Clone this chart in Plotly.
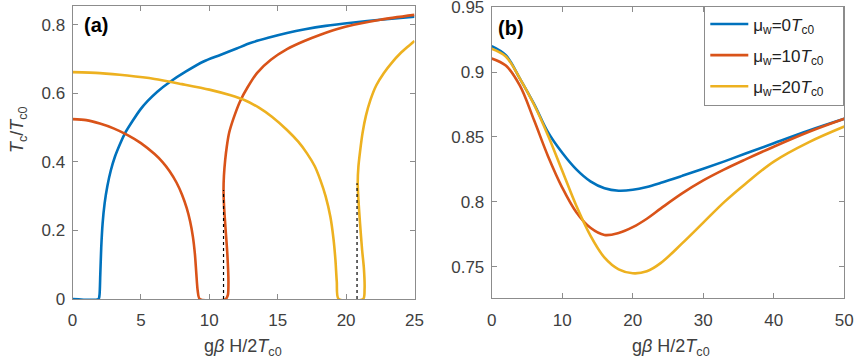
import plotly.graph_objects as go

# ---------------- Panel (a) data ----------------
blue_a_x = [0, 1.9, 1.97, 2.03, 2.1, 2.2, 2.35, 2.55, 2.8, 3.1, 3.45, 3.84, 4.4, 4.94, 5.5, 6.2, 7.14, 8.3, 9.58, 10.8, 12, 13.0, 14.3, 15.68, 17, 18.5, 20.56, 22.5, 25]
blue_a_y = [0, 0, 0.01, 0.07, 0.15, 0.22, 0.28, 0.33, 0.375, 0.415, 0.45, 0.484, 0.52, 0.552, 0.578, 0.605, 0.634, 0.664, 0.693, 0.712, 0.731, 0.747, 0.762, 0.776, 0.787, 0.797, 0.807, 0.815, 0.824]

red_a_x = [0, 1, 2, 3, 4, 5, 6, 6.6, 7.1, 7.6, 8.0, 8.35, 8.6, 8.8, 8.95, 9.05, 9.15, 9.3, 11.2, 11.36, 11.4, 11.32, 11.18, 11.08, 11.04, 11.07, 11.16, 11.28, 11.45, 11.77, 12.26, 12.8, 13.5, 14.5, 15.68, 16.9, 18.12, 19.3, 20.56, 22.5, 25]
red_a_y = [0.525, 0.522, 0.512, 0.498, 0.479, 0.455, 0.423, 0.399, 0.373, 0.340, 0.305, 0.265, 0.226, 0.182, 0.13, 0.075, 0.025, 0, 0, 0.012, 0.05, 0.13, 0.21, 0.27, 0.32, 0.36, 0.405, 0.445, 0.485, 0.527, 0.578, 0.618, 0.66, 0.698, 0.729, 0.752, 0.771, 0.787, 0.800, 0.815, 0.829]

yellow_a_x = [0, 2, 4, 6, 8, 10, 11.5, 12.6, 13.6, 14.6, 15.68, 16.5, 17.14, 17.7, 18.12, 18.5, 18.85, 19.08, 19.22, 19.32, 19.45, 21.25, 21.35, 21.3, 21.17, 21.02, 20.9, 20.85, 20.9, 21.02, 21.2, 21.45, 21.78, 22.2, 22.75, 23.35, 23.97, 24.5, 25]
yellow_a_y = [0.662, 0.659, 0.652, 0.642, 0.627, 0.611, 0.595, 0.58, 0.559, 0.531, 0.493, 0.459, 0.425, 0.388, 0.347, 0.3, 0.24, 0.175, 0.114, 0.05, 0, 0, 0.03, 0.09, 0.143, 0.22, 0.29, 0.34, 0.386, 0.43, 0.484, 0.535, 0.581, 0.623, 0.659, 0.69, 0.717, 0.736, 0.753]

dot1_x = [11.04, 11.04]
dot1_y = [0, 0.318]
dot2_x = [20.8, 20.8]
dot2_y = [0, 0.338]

# ---------------- Panel (b) data ----------------
b_x = [0, 2, 4, 6, 8, 10, 12, 14, 16, 18, 20, 22, 24, 27, 30, 33, 36, 40, 45, 50]
blue_b_y = [0.920, 0.913, 0.895, 0.8755, 0.8535, 0.8378, 0.825, 0.8158, 0.8105, 0.8086, 0.8093, 0.8115, 0.8147, 0.8200, 0.8255, 0.8312, 0.8372, 0.8452, 0.8550, 0.864]
red_b_y = [0.9105, 0.905, 0.8895, 0.863, 0.835, 0.811, 0.792, 0.780, 0.7745, 0.776, 0.7805, 0.787, 0.795, 0.8065, 0.8165, 0.825, 0.8327, 0.8425, 0.854, 0.864]
yellow_b_y = [0.918, 0.912, 0.895, 0.875, 0.851, 0.824, 0.797, 0.774, 0.757, 0.748, 0.745, 0.7465, 0.753, 0.768, 0.784, 0.800, 0.814, 0.831, 0.846, 0.858]

legend_names = ["μ<sub>w</sub>=0<i>T</i><sub>c0</sub>",
                "μ<sub>w</sub>=10<i>T</i><sub>c0</sub>",
                "μ<sub>w</sub>=20<i>T</i><sub>c0</sub>"]

x_ticks_a = [0, 5, 10, 15, 20, 25]
y_ticks_a = [0, 0.2, 0.4, 0.6, 0.8]
x_ticks_b = [0, 10, 20, 30, 40, 50]
y_ticks_b = [0.75, 0.8, 0.85, 0.9, 0.95]
y_ticktext_b = ["0.75", "0.8", "0.85", "0.9", "0.95"]

colors = ["#0072BD", "#D95319", "#EDB120"]
FONT = "Liberation Sans, Arial, sans-serif"
TXT = "#404040"
AX = "#8c8c8c"
W, H = 854, 361
PAD = "\u00a0\u00a0\u00a0"

fig = go.Figure()
LW = 2.6
for xs, ys, c in [(blue_a_x, blue_a_y, colors[0]), (red_a_x, red_a_y, colors[1]), (yellow_a_x, yellow_a_y, colors[2])]:
    fig.add_trace(go.Scatter(x=xs, y=ys, mode="lines",
                             line=dict(color=c, width=LW, shape="spline", smoothing=0.7),
                             showlegend=False, xaxis="x", yaxis="y"))
for xs, ys in [(dot1_x, dot1_y), (dot2_x, dot2_y)]:
    fig.add_trace(go.Scatter(x=xs, y=ys, mode="lines", line=dict(color="black", width=1.2, dash="dot"),
                             showlegend=False, xaxis="x", yaxis="y"))

for i, (ys, c) in enumerate([(blue_b_y, colors[0]), (red_b_y, colors[1]), (yellow_b_y, colors[2])]):
    fig.add_trace(go.Scatter(x=b_x, y=ys, mode="lines", line=dict(color=c, width=LW, shape="spline", smoothing=1.0),
                             name=legend_names[i] + PAD, legendgroup=f"g{i}", showlegend=True,
                             xaxis="x2", yaxis="y2"))

def px_x(p):
    return p / W

def px_y(p):
    return 1 - p / H

axis_common = dict(showline=True, linecolor=AX, linewidth=1, mirror="ticks", ticks="inside",
                   ticklen=5, tickcolor=AX, tickwidth=1, showgrid=False, zeroline=False,
                   automargin=False, ticklabeloverflow="allow",
                   tickfont=dict(family=FONT, size=17, color=TXT))

fig.update_layout(
    width=W, height=H,
    margin=dict(l=0, r=0, t=0, b=0, autoexpand=False),
    paper_bgcolor="white", plot_bgcolor="white",
    xaxis=dict(domain=[px_x(72.5), px_x(414.5)], range=[0, 25], tickvals=x_ticks_a,
               anchor="y", ticklabelstandoff=6, **axis_common),
    yaxis=dict(domain=[px_y(299), px_y(6)], range=[0, 0.855], tickvals=y_ticks_a,
               anchor="x", ticklabelstandoff=3, **axis_common),
    xaxis2=dict(domain=[px_x(491.7), px_x(844.3)], range=[0, 50], tickvals=x_ticks_b,
                anchor="y2", ticklabelstandoff=6, **axis_common),
    yaxis2=dict(domain=[px_y(298.3), px_y(6.5)], range=[0.7257, 0.9505], tickvals=y_ticks_b,
                ticktext=y_ticktext_b, anchor="x2", ticklabelstandoff=3, **axis_common),
    legend=dict(x=px_x(844.3), y=px_y(5.5), xanchor="right", yanchor="top",
                bgcolor="white", bordercolor=AX, borderwidth=1,
                font=dict(family=FONT, size=17, color="#222222"),
                tracegroupgap=6, itemwidth=38),
    showlegend=True,
)

ann_font = dict(family=FONT, size=18, color=TXT)
fig.add_annotation(text="<b>(a)</b>", xref="paper", yref="paper", x=px_x(82), y=px_y(25),
                   xanchor="left", yanchor="middle", showarrow=False,
                   font=dict(family=FONT, size=20, color="black"))
fig.add_annotation(text="<b>(b)</b>", xref="paper", yref="paper", x=px_x(496), y=px_y(28),
                   xanchor="left", yanchor="middle", showarrow=False,
                   font=dict(family=FONT, size=20, color="black"))
xt = "g<i>β</i> H/2<i>T</i><sub>c0</sub>"
fig.add_annotation(text=xt, xref="paper", yref="paper", x=px_x(243), y=px_y(347),
                   xanchor="center", yanchor="middle", showarrow=False, font=ann_font)
fig.add_annotation(text=xt, xref="paper", yref="paper", x=px_x(671), y=px_y(347),
                   xanchor="center", yanchor="middle", showarrow=False, font=ann_font)
fig.add_annotation(text="<i>T</i><sub>c</sub>/<i>T</i><sub>c0</sub>", xref="paper", yref="paper",
                   x=px_x(18), y=px_y(130), xanchor="center", yanchor="middle", textangle=-90,
                   showarrow=False, font=ann_font)

fig.write_html("out.html", config={"displayModeBar": False},
               post_script="document.body.style.margin='0';document.body.style.padding='0';document.body.style.overflow='hidden';")
